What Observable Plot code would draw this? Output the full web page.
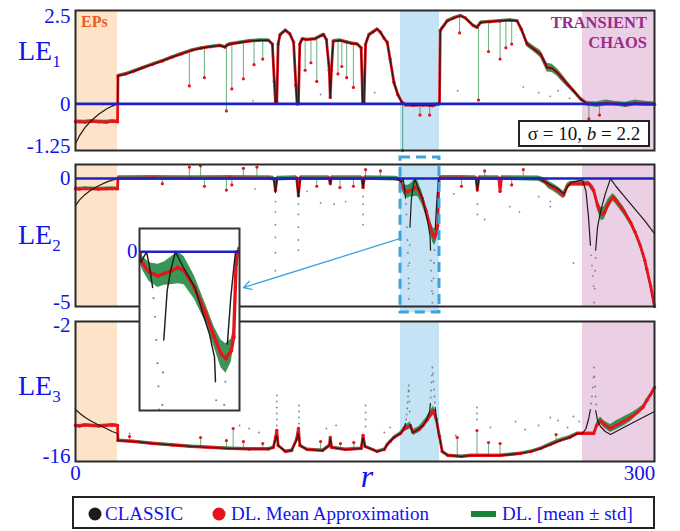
<!DOCTYPE html>
<html><head><meta charset="utf-8">
<script src="https://cdn.jsdelivr.net/npm/d3@7"></script>
<script src="https://cdn.jsdelivr.net/npm/@observablehq/plot@0.6"></script>
<style>
body{margin:0;background:#fff;}
#chart{position:relative;width:680px;height:531px;overflow:hidden;background:#fff;}
#chart svg{position:absolute;left:0;top:0;}
</style></head><body><div id="chart"></div>
<script>
// ---------- regions ----------
const bandStart = [0, 168.4, 262.7];
const bandEnd = [21.8, 188.6, 300];
const bandFill = ["#fde4c8", "#c4e3f5", "#ebcfe4"];

// ---------- LE1 ----------
const le1EpR = [0, 2, 5, 8, 12, 16, 19, 21.8];
const le1EpClassic = [-1.07, -0.86, -0.63, -0.46, -0.28, -0.14, -0.06, 0];
const le1EpDL = [-0.48, -0.48, -0.49, -0.47, -0.48, -0.49, -0.47, -0.48];
const le1EpStd = [0.05, 0.05, 0.05, 0.05, 0.05, 0.05, 0.05, 0.05];
const le1R = [22,26,30,35,40,45,50,55,60,65, 70,75,77.5,78.5,80,85,90,95,100,102,
  103,103.6,104.3,105,106,108.8,111,113,114.2,114.8, 115.5,116.2,117.5,120,124,128.5,130,131.5,132,132.6,
  133.5,137,140,143,146,148,148.8,149.5,150.3,152, 154,156.3,158,160,161.5,163,165,167,169,171,
  175,180,185,188.6,189,192.6,196,199.5,202,206, 208,210,215,220,225,228.8,231,234,238,241,
  244.4,247,249.6,252,254.8,258,261.7,265,270,275, 280,285,290,295,300];
const le1V = [0.75,0.80,0.87,0.97,1.06,1.15,1.25,1.34,1.43,1.49, 1.53,1.56,1.52,1.57,1.60,1.64,1.68,1.70,1.70,1.60,
  0.6,0.05,0.05,1.6,1.85,1.97,1.88,1.65,0.5,0.0, 0.0,1.6,1.74,1.72,1.74,1.86,1.72,0.9,0.17,0.9,
  1.68,1.70,1.66,1.62,1.60,1.5,0.03,0.03,1.6,1.85, 1.92,2.0,1.92,1.75,1.65,1.2,0.57,0.25,0.05,-0.03,
  -0.04,-0.03,-0.05,0.0,1.96,2.22,2.30,2.36,2.30,2.10, 2.05,2.18,2.20,2.22,2.24,2.22,2.0,1.6,1.45,1.33,
  0.97,0.95,0.84,0.7,0.53,0.35,0.13,0.0,-0.02,0.02, 0.0,-0.03,0.02,0.0,-0.01];
const le1Std = [0.04,0.04,0.04,0.04,0.04,0.04,0.04,0.04,0.04,0.04, 0.04,0.04,0.04,0.04,0.04,0.04,0.04,0.04,0.04,0.04,
  0.08,0.06,0.06,0.06,0.04,0.04,0.04,0.04,0.08,0.06, 0.06,0.06,0.04,0.04,0.04,0.04,0.04,0.08,0.06,0.08,
  0.04,0.04,0.04,0.04,0.04,0.05,0.06,0.06,0.06,0.04, 0.04,0.04,0.04,0.04,0.04,0.05,0.05,0.04,0.04,0.04,
  0.04,0.04,0.04,0.04,0.06,0.04,0.04,0.04,0.04,0.04, 0.05,0.04,0.04,0.04,0.04,0.04,0.06,0.08,0.08,0.1,
  0.12,0.11,0.1,0.1,0.08,0.06,0.05,0.06,0.07,0.08, 0.06,0.07,0.08,0.07,0.06];
const le1SpikeR = [59,66.8,78.2,81,87,92.5,97,119,122,125, 136,138,140.5,144,169.5,178.5,183.5,199,208.8,214, 220,223,226,266,271.5];
const le1SpikeFrom = [1.41,1.50,1.56,1.60,1.66,1.68,1.70,1.73,1.73,1.76, 1.70,1.70,1.65,1.61,0.0,-0.03,-0.05,2.36,2.06,2.2, 2.22,2.23,2.24,0.0,-0.02];
const le1SpikeTo = [0.48,0.70,-0.19,0.40,0.67,1.05,1.2,0.9,1.1,0.6, 0.8,1.0,0.7,0.44,-1.25,-0.3,-0.3,1.9,0.1,1.4, 1.2,1.5,1.6,-0.4,-0.3];
const le1DotR = [92,127,155,198,232,240,246,250,256];
const le1DotV = [0.08,0.25,0.3,0.35,0.45,0.3,0.2,0.35,0.15];

// ---------- LE2 ----------
const le2EpR = [0, 2, 5, 8, 12, 16, 19, 21.8];
const le2EpClassic = [-1.06, -0.84, -0.62, -0.45, -0.28, -0.14, -0.06, 0];
const le2EpDL = [-0.4, -0.41, -0.39, -0.4, -0.41, -0.4, -0.39, -0.4];
const le2EpStd = [0.07, 0.07, 0.07, 0.07, 0.07, 0.07, 0.07, 0.07];
const le2R = [22,40,60,80,100,102.8,103.6,104.4,114.6,115.5, 116.4,131.4,132,132.6,148.4,149,149.6,166,168.4,168.6,
  169.0,170.3,172.1,173.4,174.9,176.2,177.5,179.6,181.7,183.7, 185.1,186.1,187.2,187.7,188.2,188.5,189,200,207.5,208.2,
  209,219.3,220,220.7,240,243,245.2,247.5,249.6,252.9, 254.8,256.5,262.7,266,268.5,270.5,272.5,274,276,278.5,
  280,284,287.6,290,292.7,295,296,298,300];
const le2V = [0.02,0.03,0.02,0.03,0.02,0.0,-0.47,0.0,0.02,-0.67, 0.02,0.02,-0.2,0.02,0.02,-0.35,0.02,0.0,-0.05,-0.2,
  -0.26,-0.44,-0.52,-0.47,-0.41,-0.34,-0.41,-0.77,-1.27,-1.84, -2.2,-2.3,-2.13,-1.84,-0.26,0.0,0.03,0.03,0.02,-0.45,
  0.02,0.02,-0.5,0.02,0.0,-0.1,-0.25,-0.35,-0.45,-0.65, -0.3,-0.2,-0.2,-0.2,-0.45,-1.05,-1.4,-1.35,-1.0,-0.73,
  -0.85,-1.25,-1.71,-2.1,-2.63,-3.2,-3.54,-4.2,-5.0];
const le2Std = [0.09,0.09,0.09,0.09,0.09,0.09,0.12,0.09,0.09,0.12, 0.09,0.09,0.1,0.09,0.09,0.1,0.09,0.09,0.08,0.1,
  0.15,0.2,0.25,0.25,0.3,0.35,0.3,0.25,0.2,0.22, 0.3,0.32,0.25,0.2,0.1,0.08,0.09,0.09,0.09,0.12,
  0.09,0.09,0.12,0.09,0.1,0.12,0.15,0.15,0.15,0.15, 0.12,0.1,0.1,0.1,0.15,0.2,0.25,0.25,0.2,0.15,
  0.15,0.15,0.12,0.12,0.12,0.12,0.12,0.12,0.12];
const le2ClassicR = [22,102.8,103.6,104.4,114.6,115.5,116.4,131.4,132,132.6, 148.4,149,149.6,166,168.4,168.6,169.75,170.4,171.0,171.2,
  173.3,174.0,174.7,175.7,177.35,179.7,181.4,182.7,183.75,183.95, 184.0,186.4,187.1,187.8,188.1,207.5,208.2,209,240,245,
  250,253,255,257,262.7,264.5,265.8,266.8,267,269.5, 270.5,272,274.5,277.2,280,285,290,295,300];
const le2Classic = [0,0,-0.55,0,0,-0.7,0,0,-0.2,0, 0,-0.35,0,0,-0.1,-0.23,0,-0.34,-0.77,null,
  -1.9,-0.84,-0.41,0,-0.34,-0.77,-1.34,-1.77,-2.27,-2.8, null,-1.99,-0.99,-0.27,0,0,-0.45,0,0,-0.2,
  -0.4,-0.6,-0.3,-0.15,-0.05,-0.5,-1.5,-2.6,null,-2.8, -1.9,-1.3,-0.6,0,-0.3,-0.75,-1.2,-1.65,-2.15];
const le2DotR = [171.2,171.5,171.75,172.0,172.2,172.35,172.5,172.6,172.7,172.85,173.0,173.15,
  184.1,184.3,184.5,184.7,184.9,185.2,185.5,185.75,186.0,186.2,
  103.6,103.6,103.6,103.6,103.6,103.6, 115.5,115.5,115.5,115.5,115.5, 149,149,149,149,
  93,120,127,134,140,196,208.2,208.2,212,225,230,240,246,246,252,258,
  267.2,267.6,268.0,268.4,268.7,269.0,269.3,269.5];
const le2DotV = [-1.0,-1.4,-1.9,-2.4,-2.9,-3.4,-3.9,-4.3,-4.7,-4.1,-3.3,-2.6,
  -3.2,-3.6,-4.0,-4.4,-4.85,-4.5,-3.9,-3.3,-2.8,-2.4,
  -0.9,-1.3,-1.8,-2.3,-2.9,-3.6, -1.0,-1.4,-1.9,-2.4,-2.8, -0.7,-1.0,-1.4,-1.8,
  -0.4,-0.5,-0.95,-1.0,-0.9,-0.6,-1.0,-1.4,-1.6,-1.1,-1.3,-0.7,-0.9,-1.1,-0.6,-3.3,
  -3.0,-3.4,-3.8,-4.2,-4.85,-4.3,-3.6,-3.1];
const le2SpikeR = [45,59,64.8,66.8,78.2,81,87,94,125,137,144,150.3,158,200,212,226,232];
const le2SpikeFrom = [0.03,0.02,0.02,0.02,0.03,0.03,0.02,0.02,0.02,0.02,0.02,0.02,0.02,0.03,0.03,0.02,0.02];
const le2SpikeTo = [-0.2,0.45,0.5,-0.3,-0.45,-0.25,0.4,0.45,-0.3,-0.35,-0.3,0.35,0.3,-0.3,0.3,-0.25,0.35];

// ---------- LE3 ----------
const le3EpR = [0, 2, 5, 8, 12, 16, 19, 21.8];
const le3EpClassic = [-10.8, -11.15, -11.6, -11.95, -12.35, -12.7, -13.0, -13.2];
const le3EpDL = [-12.4, -12.45, -12.35, -12.4, -12.45, -12.4, -12.35, -12.4];
const le3EpStd = [0.15, 0.15, 0.15, 0.15, 0.15, 0.15, 0.15, 0.15];
const le3R = [22,30,40,50,60,70,80,90,100,102.5, 103.6,104.3,105,108.8,112,114.5,115.5,116.3,120,128,
  131.5,132,132.7,140,148,149,150,156.3,160,161.5, 163,165,168.4,170,171.5,173.5,175,178,180,182,
  184,185.5,187,188.6,190,193,200,205,210,220, 230.6,236,241,246,251,256,260,262.7,266,268.5,
  270,272,274,277.2,280,284,287.6,291,294,296, 298,300];
const le3V = [-13.9,-14.0,-14.2,-14.35,-14.5,-14.6,-14.7,-14.75,-14.75,-14.6, -13.6,-12.9,-14.4,-15.0,-14.9,-13.8,-12.7,-14.4,-14.8,-14.9,
  -14.4,-13.6,-14.6,-14.8,-14.7,-13.4,-14.5,-15.0,-14.8,-14.3, -14.0,-13.6,-13.2,-12.8,-12.6,-12.4,-13.1,-12.8,-12.4,-11.9,
  -11.3,-10.9,-11.8,-13.5,-15.0,-15.4,-15.5,-15.4,-15.4,-15.4, -15.2,-15.0,-14.7,-14.3,-13.9,-13.6,-13.2,-13.2,-13.2,-13.2,
  -12.4,-11.9,-12.3,-12.7,-12.4,-12.0,-11.6,-11.1,-10.6,-9.9, -9.3,-8.6];
const le3Std = [0.15,0.15,0.15,0.15,0.15,0.15,0.15,0.15,0.15,0.15, 0.2,0.2,0.15,0.15,0.15,0.2,0.2,0.15,0.15,0.15,
  0.15,0.2,0.15,0.15,0.15,0.2,0.15,0.15,0.15,0.15, 0.15,0.15,0.2,0.25,0.3,0.35,0.3,0.3,0.35,0.35,
  0.4,0.45,0.35,0.2,0.15,0.15,0.15,0.15,0.15,0.15, 0.15,0.15,0.15,0.2,0.2,0.2,0.15,0.15,0.15,0.15,
  0.3,0.35,0.35,0.4,0.45,0.45,0.4,0.3,0.25,0.2, 0.15,0.15];
const le3ClassicR = [22,30,40,50,60,70,80,90,100,102.5, 103.6,104.3,105,108.8,112,114.5,115.5,116.3,120,128,
  131.5,132,132.7,140,148,149,150,156.3,160,161.5, 163,165,168.4,170,171.0,171.2,173.3,174.5,176,178,
  180,182,183.5,183.9,184.0,186.4,187.1,188,188.6,190, 193,200,205,210,220,230.6,236,241,246,251,
  256,260,262.7,264.5,265.8,266.8,267,269.5,270.5,272, 274.5,277.2,285,292,300];
const le3Classic = [-13.9,-14.0,-14.2,-14.35,-14.5,-14.6,-14.7,-14.75,-14.75,-14.6, -13.8,-13.4,-14.4,-15.0,-14.9,-13.9,-13.2,-14.4,-14.8,-14.9,
  -14.4,-13.7,-14.6,-14.8,-14.7,-13.6,-14.5,-15.0,-14.8,-14.3, -14.0,-13.6,-13.2,-12.8,-12.2,null,-12.3,-13.1,-13.0,-12.7,
  -12.4,-11.8,-11.0,-10.2,null,-10.6,-12.0,-13.2,-13.5,-15.0, -15.4,-15.5,-15.4,-15.4,-15.4,-15.2,-15.0,-14.7,-14.3,-13.9,
  -13.6,-13.2,-13.2,-12.7,-11.8,-10.8,null,-10.9,-11.9,-12.5, -13.0,-13.3,-12.5,-11.8,-11.0];
const le3DotR = [171.3,171.6,171.9,172.1,172.3,172.5,172.65,172.8,173.0,173.15,
  184.1,184.3,184.5,184.7,184.9,185.2,185.5,185.75,186.0,186.2,
  267.2,267.6,268.0,268.4,268.6,268.9,269.2,269.5,269.8,
  104.3,104.3,104.3,104.3,104.3,104.3, 115.8,115.8,115.8,115.8, 150.3,150.3,150.3,150.3, 208,208,208,
  28,85,90,95,130,135,160,163,197,215,228,233,240,246,250,255,258,261];
const le3DotV = [-11.8,-11.3,-10.7,-10.1,-9.5,-8.9,-8.4,-9.0,-10.0,-11.0,
  -9.6,-8.9,-8.1,-7.4,-6.6,-7.2,-8.0,-8.8,-9.5,-10.1,
  -10.2,-9.5,-8.6,-7.6,-6.6,-7.5,-8.5,-9.5,-10.3,
  -9.4,-10.0,-10.6,-11.2,-11.8,-12.4, -10.4,-11.0,-11.6,-12.2, -10.4,-11.1,-11.8,-12.5, -10.6,-11.2,-11.8,
  -13.2,-12.4,-12.7,-13.1,-12.7,-12.4,-13.1,-12.6,-13.4,-12.6,-12.0,-12.8,-12.4,-11.6,-11.9,-12.6,-11.5,-12.0];
const le3SpikeR = [28,64.8,78.2,81.7,87,97,127,137.3,144.2,197.8,208,214,220,249];
const le3SpikeFrom = [-13.95,-14.55,-14.7,-14.7,-14.75,-14.75,-14.9,-14.8,-14.75,-15.45,-15.4,-15.4,-15.4,-14.1];
const le3SpikeTo = [-13.5,-13.6,-13.9,-12.7,-14.0,-14.2,-14.0,-14.2,-14.1,-13.6,-12.9,-14.1,-14.2,-13.3];

// ---------- annotations ----------
const zoomBox = [{r1: 168.4, r2: 188.6, lo: -5.23, hi: 0.82}];
const zoomArrow = [{r1: 168.4, v1: -2.34, r2: 87.0, v2: -4.26}];

// ---------- style ----------
const W = 680, H = 531;
const serif = "'Liberation Serif', 'DejaVu Serif', serif";
const BLUE_TXT = "#1212ec", ZERO = "#1d22c4", RED = "#e8141c", GREEN = "#17843a",
      BLACK = "#1c1c1c", GRAY = "#6a6a6a", FRAME = "#2a2a2a", CYAN = "#3ba3de";

const rows = (r, v, s) => r.map((x, i) => ({r: x, v: v[i], s: s ? s[i] : 0}));
const spikeRows = (r, a, b) => r.map((x, i) => ({r: x, from: a[i], to: b[i]}));
const bands = bandStart.map((a, i) => ({a, b: bandEnd[i], c: bandFill[i]}));

function dataMarks(dl, classic, dots, spk, clip, k) {
  const m = [
    Plot.areaY(dl, {x: "r", y1: d => d.v - d.s, y2: d => d.v + d.s, fill: GREEN, fillOpacity: 0.85, clip})
  ];
  if (spk) {
    m.push(Plot.ruleX(spk, {x: "r", y1: "from", y2: "to", stroke: GREEN, strokeWidth: 1.1, strokeOpacity: 0.6}));
    m.push(Plot.dot(spk, {x: "r", y: "to", r: 1.6, fill: RED}));
  }
  m.push(Plot.dot(dots, {x: "r", y: "v", r: 0.9 * k, fill: GRAY, fillOpacity: 0.8, clip}));
  m.push(Plot.line(dl, {x: "r", y: "v", stroke: RED, strokeWidth: 2.8 * k, clip}));
  m.push(Plot.dot(dl, {x: "r", y: "v", r: 1.7 * k, fill: RED, clip}));
  m.push(Plot.line(classic, {x: "r", y: "v", stroke: BLACK, strokeWidth: 1.2 * k, clip}));
  return m;
}
function bandMarks(yd) {
  return bands.map(b => Plot.rect([b], {x1: "a", x2: "b", y1: () => yd[0], y2: () => yd[1], fill: b.c}));
}
function yTick(v, dy, pad = 5) {
  return Plot.axisY({ticks: [v], tickSize: 0, tickPadding: pad, fontSize: 21, fill: BLUE_TXT, dy, label: null, tickFormat: d => String(d)});
}
function panel(top, bottom, yd, marks, xAxis) {
  return Plot.plot({
    width: W, height: H, marginLeft: 75, marginRight: 26, marginTop: top, marginBottom: H - bottom,
    x: xAxis ? {domain: [0, 300]} : {domain: [0, 300], axis: null},
    y: {domain: yd},
    style: {background: "transparent", fontFamily: serif},
    marks
  });
}

// series
const dl1 = rows(le1EpR.concat(le1R), le1EpDL.concat(le1V), le1EpStd.concat(le1Std));
const cl1 = rows(le1EpR.concat(le1R), le1EpClassic.concat(le1V));
const dl2 = rows(le2EpR.concat(le2R), le2EpDL.concat(le2V), le2EpStd.concat(le2Std));
const cl2 = rows(le2EpR.concat(le2ClassicR), le2EpClassic.concat(le2Classic));
const dl3 = rows(le3EpR.concat(le3R), le3EpDL.concat(le3V), le3EpStd.concat(le3Std));
const cl3 = rows(le3EpR.concat(le3ClassicR), le3EpClassic.concat(le3Classic));
const dots1 = rows(le1DotR, le1DotV), dots2 = rows(le2DotR, le2DotV), dots3 = rows(le3DotR, le3DotV);

const y1d = [-1.25, 2.5], y2d = [-5, 0.55], y3d = [-16, -2];

const p1 = panel(10, 150, y1d, [
  ...bandMarks(y1d),
  ...dataMarks(dl1, cl1, dots1, spikeRows(le1SpikeR, le1SpikeFrom, le1SpikeTo), false, 1),
  Plot.ruleY([0], {stroke: ZERO, strokeWidth: 2.6}),
  Plot.frame({stroke: FRAME, strokeWidth: 2}),
  yTick(2.5, 6), yTick(0, 0), yTick(-1.25, -4)
]);

const p2 = panel(164, 306, y2d, [
  ...bandMarks(y2d),
  Plot.rect([{a: 168.4, b: 188.6, lo: -5.23, hi: -5}], {x1: "a", x2: "b", y1: "lo", y2: "hi", fill: bandFill[1]}),
  ...dataMarks(dl2, cl2, dots2, spikeRows(le2SpikeR, le2SpikeFrom, le2SpikeTo), false, 1),
  Plot.ruleY([0], {stroke: ZERO, strokeWidth: 2.6}),
  Plot.frame({stroke: FRAME, strokeWidth: 2}),
  Plot.rect(zoomBox, {x1: "r1", x2: "r2", y1: "lo", y2: "hi", fill: "none", stroke: CYAN, strokeWidth: 3, strokeDasharray: "10,6"}),
  Plot.arrow(zoomArrow, {x1: "r1", y1: "v1", x2: "r2", y2: "v2", stroke: CYAN, strokeWidth: 1.3, headLength: 10}),
  yTick(0, 0), yTick(-5, -4)
]);

const p3 = panel(321, 461, y3d, [
  ...bandMarks(y3d),
  ...dataMarks(dl3, cl3, dots3, spikeRows(le3SpikeR, le3SpikeFrom, le3SpikeTo), false, 1),
  Plot.frame({stroke: FRAME, strokeWidth: 2}),
  yTick(-2, 4), yTick(-16, -5),
  Plot.axisX({ticks: [0], tickSize: 0, tickPadding: 4, fontSize: 21, fill: BLUE_TXT, label: null, tickFormat: d => String(d)}),
  Plot.axisX({ticks: [300], tickSize: 0, tickPadding: 4, fontSize: 21, fill: BLUE_TXT, dx: -15, label: null, tickFormat: d => String(d)})
], true);

const inset = Plot.plot({
  width: W, height: H, marginLeft: 139, marginRight: W - 239, marginTop: 228, marginBottom: H - 410,
  x: {domain: [168.3, 188.9], axis: null},
  y: {domain: [-3.42, 0.5]},
  style: {background: "transparent", fontFamily: serif},
  marks: [
    Plot.frame({fill: "white"}),
    ...dataMarks(dl2, cl2, dots2, null, true, 1.2),
    Plot.ruleY([0], {stroke: ZERO, strokeWidth: 2.6}),
    Plot.frame({stroke: "#333", strokeWidth: 2}),
    yTick(0, 0, 2)
  ]
});

const chart = document.getElementById("chart");
[p1, p2, p3, inset].forEach(p => chart.appendChild(p));

// ---------- overlay text, legend ----------
const ov = d3.create("svg").attr("width", W).attr("height", H).attr("font-family", serif);
function leLabel(y, sub) {
  const t = ov.append("text").attr("x", 18).attr("y", y).attr("font-size", 28).attr("fill", BLUE_TXT).text("LE");
  t.append("tspan").attr("font-size", 17).attr("dy", 7).text(sub);
}
leLabel(60, "1"); leLabel(244, "2"); leLabel(395, "3");
ov.append("text").attr("x", 367).attr("y", 487).attr("text-anchor", "middle").attr("font-size", 32)
  .attr("font-style", "italic").attr("fill", BLUE_TXT).text("r");
ov.append("text").attr("x", 81).attr("y", 27).attr("font-size", 16).attr("font-weight", "bold")
  .attr("fill", "#ee5a24").text("EPs");
ov.append("text").attr("x", 647).attr("y", 28).attr("text-anchor", "end").attr("font-size", 16.5)
  .attr("font-weight", "bold").attr("fill", "#9a2b8c").text("TRANSIENT");
ov.append("text").attr("x", 647).attr("y", 48).attr("text-anchor", "end").attr("font-size", 16.5)
  .attr("font-weight", "bold").attr("fill", "#9a2b8c").text("CHAOS");
ov.append("rect").attr("x", 519).attr("y", 121).attr("width", 130).attr("height", 25)
  .attr("fill", "white").attr("stroke", "#222").attr("stroke-width", 2);
const st = ov.append("text").attr("x", 584).attr("y", 140).attr("text-anchor", "middle").attr("font-size", 19).attr("fill", "#111");
st.append("tspan").text("σ = 10, ");
st.append("tspan").attr("font-style", "italic").text("b");
st.append("tspan").text(" = 2.2");

// legend
ov.append("rect").attr("x", 73).attr("y", 497).attr("width", 581).attr("height", 31)
  .attr("fill", "white").attr("stroke", "#222").attr("stroke-width", 2);
ov.append("circle").attr("cx", 95).attr("cy", 514).attr("r", 6.5).attr("fill", BLACK);
ov.append("text").attr("x", 105).attr("y", 520).attr("font-size", 19).attr("fill", BLUE_TXT).text("CLASSIC");
ov.append("circle").attr("cx", 219).attr("cy", 514).attr("r", 6.5).attr("fill", RED);
ov.append("text").attr("x", 231).attr("y", 520).attr("font-size", 19).attr("fill", BLUE_TXT).text("DL. Mean Approximation");
ov.append("rect").attr("x", 471).attr("y", 511).attr("width", 25).attr("height", 6).attr("fill", GREEN);
ov.append("text").attr("x", 502).attr("y", 520).attr("font-size", 19).attr("fill", BLUE_TXT).text("DL. [mean ± std]");
chart.appendChild(ov.node());
</script></body></html>
